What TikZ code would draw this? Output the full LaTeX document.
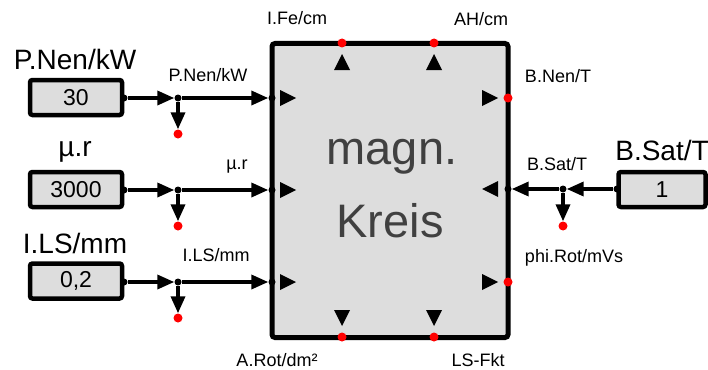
\documentclass[tikz,border=0pt]{standalone}
\usepackage{fontspec}
\setmainfont{Liberation Sans}
\usetikzlibrary{arrows.meta}
\definecolor{boxgray}{HTML}{DDDDDD}
\definecolor{txtgray}{HTML}{404040}
\tikzset{
  valbox/.style={draw, line width=4.5pt, fill=boxgray, rounded corners=2.5pt, minimum width=92pt, minimum height=35pt, inner sep=0pt, font=\fontsize{23}{23}\selectfont},
  mainblock/.style={draw, line width=5pt, fill=boxgray, rounded corners=3pt, minimum width=236pt, minimum height=294pt, inner sep=0pt},
  bigtxt/.style={font=\fontsize{28}{28}\selectfont, inner sep=0pt},
  smalltxt/.style={font=\fontsize{18}{18}\selectfont, inner sep=0pt},
  centertxt/.style={font=\fontsize{47}{47}\selectfont, text=txtgray, inner sep=0pt},
  bdot/.style={circle, fill=black, inner sep=0pt, minimum size=7pt},
  rdot/.style={circle, fill=red, inner sep=0pt, minimum size=9pt},
  wire/.style={line width=3.5pt, -{Triangle[length=17pt,width=14pt]}},
  porttri/.style={fill=black},
}
\begin{document}
\begin{tikzpicture}[x=1pt,y=-1pt]
\useasboundingbox (0,0) rectangle (708,369);
% main block
\node[mainblock] (blk) at (390,190.5) {};
\node[centertxt] (t1) at (392,157) {magn.};
\node[centertxt] (t2) at (390,221) {Kreis};
% port triangles inside block
\fill[porttri] (280,90) -- (296,98) -- (280,106) -- cycle;
\fill[porttri] (280,182) -- (296,190) -- (280,198) -- cycle;
\fill[porttri] (280,274) -- (296,282) -- (280,290) -- cycle;
\fill[porttri] (334,70) -- (342,54) -- (350,70) -- cycle;
\fill[porttri] (426,70) -- (434,54) -- (442,70) -- cycle;
\fill[porttri] (334,310) -- (342,326) -- (350,310) -- cycle;
\fill[porttri] (426,310) -- (434,326) -- (442,310) -- cycle;
\fill[porttri] (482,90) -- (498,98) -- (482,106) -- cycle;
\fill[porttri] (498,181) -- (482,189) -- (498,197) -- cycle;
\fill[porttri] (482,274) -- (498,282) -- (482,290) -- cycle;
% output port dots
\node[rdot] (oFe) at (342,43) {};
\node[rdot] (oAH) at (434,43) {};
\node[rdot] (oRot) at (342,337) {};
\node[rdot] (oLS) at (434,337) {};
\node[rdot] (oBN) at (508,98) {};
\node[rdot] (oPhi) at (508,282) {};
% port labels
\node[smalltxt] (lFe) at (297,18) {I.Fe/cm};
\node[smalltxt] (lAH) at (481,19) {AH/cm};
\node[smalltxt] (lBN) at (558,76) {B.Nen/T};
\node[smalltxt] (lBS) at (557,164) {B.Sat/T};
\node[smalltxt] (lPhi) at (574,258) {phi.Rot/mVs};
\node[smalltxt] (lRot) at (277,360) {A.Rot/dm²};
\node[smalltxt] (lLS) at (478,360) {LS-Fkt};
\node[smalltxt] (lP) at (208,75) {P.Nen/kW};
\node[smalltxt] (lmu) at (237,167) {µ.r};
\node[smalltxt] (lLSm) at (216,255) {I.LS/mm};
% input boxes
\node[valbox] (v1) at (76,97.5) {30};
\node[valbox] (v2) at (76,189.5) {3000};
\node[valbox] (v3) at (76,281) {0,2};
\node[valbox, minimum width=87pt] (v4) at (662,189.5) {1};
\node[bigtxt] (b1) at (75,59) {P.Nen/kW};
\node[bigtxt] (b2) at (75,152) {µ.r};
\node[bigtxt] (b3) at (75,243) {I.LS/mm};
\node[bigtxt] (b4) at (662,150) {B.Sat/T};
% connection dots
\node[bdot] (s1) at (124,98) {};
\node[bdot] (j1) at (178,98) {};
\node[bdot] (p1) at (272,98) {};
\node[rdot] (r1) at (178,134) {};
\node[bdot] (s2) at (124,190) {};
\node[bdot] (j2) at (178,190) {};
\node[bdot] (p2) at (272,190) {};
\node[rdot] (r2) at (178,226) {};
\node[bdot] (s3) at (124,282) {};
\node[bdot] (j3) at (178,282) {};
\node[bdot] (p3) at (272,282) {};
\node[rdot] (r3) at (178,318) {};
\node[bdot] (s4) at (617,189) {};
\node[bdot] (j4) at (563,189) {};
\node[bdot] (p4) at (508,189) {};
\node[rdot] (r4) at (563,226) {};
% wires
\foreach \i in {1,2,3,4}{
  \draw[wire] (s\i) -- (j\i);
  \draw[wire] (j\i) -- (p\i);
  \draw[wire] (j\i) -- (r\i);
}
\end{tikzpicture}
\end{document}
